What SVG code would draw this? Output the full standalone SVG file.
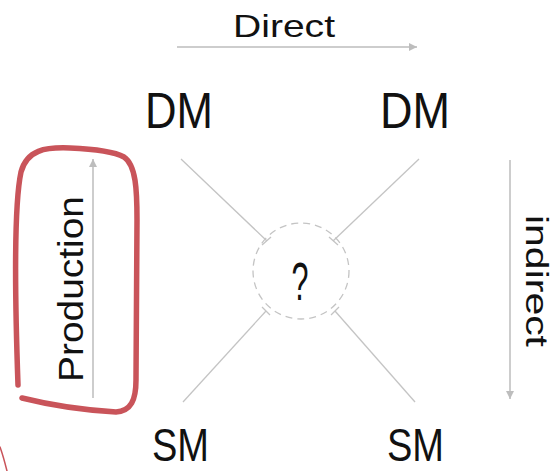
<svg xmlns="http://www.w3.org/2000/svg" width="555" height="471" viewBox="0 0 555 471">
  <defs>
    <marker id="arrow" viewBox="0 0 10 10" refX="10" refY="5" markerWidth="8" markerHeight="8" markerUnits="userSpaceOnUse" orient="auto">
      <path d="M0,0 L10,5 L0,10 Z" fill="#bdbdbd"/>
    </marker>
    <style>
      .axis { stroke: #bdbdbd; stroke-width: 1.5; fill: none; }
      .diag { stroke: #c4c4c4; stroke-width: 1.3; fill: none; }
      .label { font-family: "Liberation Sans", "DejaVu Sans", sans-serif; fill: #111; }
      .big { font-size: 50px; }
      .small { font-size: 32px; }
      .hl { stroke: #c9545a; fill: none; stroke-linecap: round; stroke-linejoin: round; }
    </style>
  </defs>
  <rect width="555" height="471" fill="#ffffff"/>

  <!-- highlight around the production axis -->
  <g id="highlight">
    <path class="hl" stroke-width="5.5" d="M18 385 C15 300 14 205 21 172 C27 150 45 147 70 148 C95 149 113 151 124 157 C136 165 137 190 137 220 L136 380 C136 400 131 411 116 412 C82 410 46 404 22 398"/>
    <path class="hl" stroke-width="1.5" d="M0 447 C3 455 5 463 7 471"/>
  </g>

  <!-- connectors -->
  <g id="connectors">
    <line class="axis" x1="177" y1="47" x2="417" y2="47" marker-end="url(#arrow)"/>
    <line class="axis" x1="510" y1="160" x2="510" y2="399" marker-end="url(#arrow)"/>
    <line class="axis" x1="93" y1="398" x2="93" y2="159" marker-end="url(#arrow)"/>
    <line class="diag" x1="181" y1="159" x2="267" y2="241"/>
    <line class="diag" x1="262" y1="245" x2="271" y2="237"/>
    <line class="diag" x1="419" y1="159" x2="333" y2="241"/>
    <line class="diag" x1="338" y1="245" x2="329" y2="237"/>
    <line class="diag" x1="183" y1="402" x2="266" y2="311"/>
    <line class="diag" x1="262" y1="307" x2="270" y2="315"/>
    <line class="diag" x1="415" y1="402" x2="335" y2="311"/>
    <line class="diag" x1="331" y1="315" x2="339" y2="307"/>
  </g>

  <!-- centre node -->
  <g id="center">
    <circle cx="301" cy="271" r="48" fill="none" stroke="#c4c4c4" stroke-width="1.3" stroke-dasharray="7 5"/>
    <text class="label" x="300" y="300" font-size="54" text-anchor="middle" textLength="17" lengthAdjust="spacingAndGlyphs">?</text>
  </g>

  <g id="dm-left">
    <text class="label big" x="145" y="128" textLength="68" lengthAdjust="spacingAndGlyphs">DM</text>
  </g>
  <g id="dm-right">
    <text class="label big" x="380" y="128" textLength="70" lengthAdjust="spacingAndGlyphs">DM</text>
  </g>
  <g id="sm-left">
    <text class="label" font-size="46" x="152" y="461" textLength="57" lengthAdjust="spacingAndGlyphs">SM</text>
  </g>
  <g id="sm-right">
    <text class="label" font-size="46" x="387" y="461" textLength="57" lengthAdjust="spacingAndGlyphs">SM</text>
  </g>

  <g id="label-direct">
    <text class="label small" x="233" y="37" textLength="102" lengthAdjust="spacingAndGlyphs">Direct</text>
  </g>
  <g id="label-indirect">
    <text class="label small" transform="translate(526 215) rotate(90)" x="0" y="0" textLength="132" lengthAdjust="spacingAndGlyphs">indirect</text>
  </g>
  <g id="label-production">
    <text class="label" font-size="35" transform="translate(83 382) rotate(-90)" x="0" y="0" textLength="186" lengthAdjust="spacingAndGlyphs">Production</text>
  </g>
</svg>
